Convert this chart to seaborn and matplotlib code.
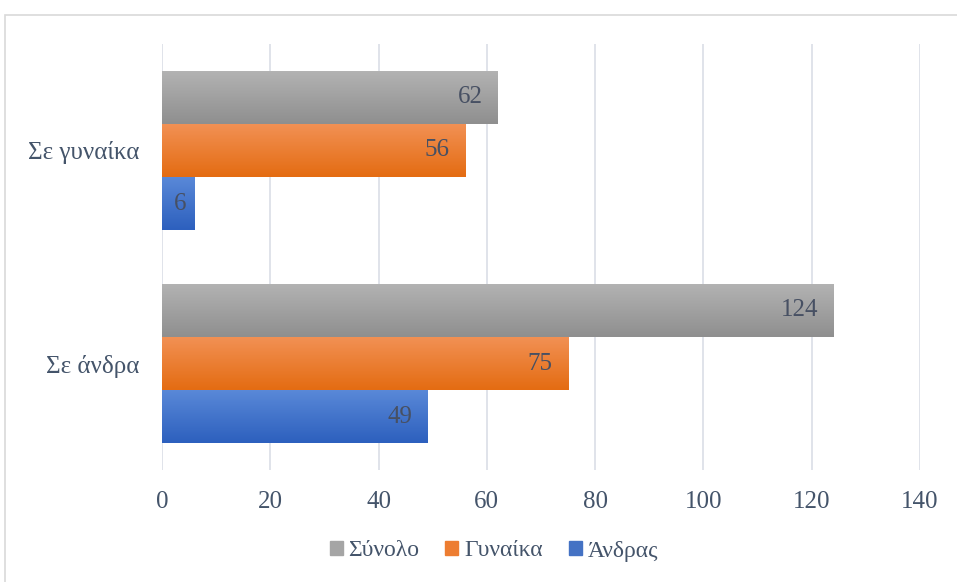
import numpy as np
import pandas as pd
import matplotlib
matplotlib.use("Agg")
import matplotlib.pyplot as plt
import seaborn as sns
from matplotlib.colors import LinearSegmentedColormap
from matplotlib.patches import Rectangle

categories = ["Σε γυναίκα", "Σε άνδρα"]
series = ["Σύνολο", "Γυναίκα", "Άνδρας"]
total = [62, 124]
women = [56, 75]
men = [6, 49]
xticks = [0, 20, 40, 60, 80, 100, 120, 140]

colors = {"Σύνολο": "#a5a5a5", "Γυναίκα": "#ed7d31", "Άνδρας": "#4472c4"}
grads = {
    "Σύνολο": ("#b3b3b3", "#8f8f8f"),
    "Γυναίκα": ("#f29155", "#e46c12"),
    "Άνδρας": ("#5a89d8", "#2d60be"),
}

df = pd.DataFrame({
    "cat": categories * 3,
    "series": [s for s in series for _ in categories],
    "value": total + women + men,
})

sns.set_theme(style="white")
plt.rcParams["font.family"] = ["Liberation Serif", "DejaVu Serif"]
txt = "#44546a"
fs = 18

fig = plt.figure(figsize=(9.57, 5.82), dpi=100)
ax = fig.add_axes([162/957, 1-470/582, (920-162)/957, (470-44)/582])

sns.barplot(data=df, y="cat", x="value", hue="series", order=categories,
            hue_order=series, palette=colors, orient="h", width=0.75,
            ax=ax, legend=True, saturation=1, linewidth=0)

ax.set_xlim(0, 140)
ax.set_xticks(xticks)
ax.grid(axis="x", color="#dde1e8", linewidth=1.3)
ax.grid(axis="y", visible=False)
ax.set_axisbelow(True)
for s in ax.spines.values():
    s.set_visible(False)
ax.tick_params(axis="x", length=0, pad=15, labelsize=fs, labelcolor=txt)
ax.tick_params(axis="y", length=0, pad=16, labelsize=fs, labelcolor=txt)
ax.set_xlabel("")
ax.set_ylabel("")

# gradient fills and labels
for cont, s in zip(ax.containers, series):
    cmap = LinearSegmentedColormap.from_list(s, [grads[s][0], grads[s][1]])
    for bar in cont:
        x0, y0 = bar.get_x(), bar.get_y()
        w, h = bar.get_width(), bar.get_height()
        grad = np.linspace(0, 1, 64).reshape(-1, 1)
        im = ax.imshow(grad, cmap=cmap, aspect="auto",
                       extent=(x0, x0 + w, y0 + h, y0), origin="upper", zorder=bar.get_zorder())
        im.set_clip_path(bar)
        ax.annotate(f"{int(round(w))}", xy=(x0 + w, y0 + h / 2), xytext=(-11 if w > 10 else -6, 0),
                    textcoords="offset points", ha="right", va="center",
                    fontsize=fs, color="#475063", zorder=5)
ax.set_ylim(1.5, -0.5)
ax.set_xlim(0, 140)

leg = ax.get_legend()
handles = [Rectangle((0, 0), 1, 1, color=colors[s]) for s in series]
leg.remove()
fig.legend(handles, series, loc="center", bbox_to_anchor=(494/957, 1-551/582), ncol=3,
           frameon=False, fontsize=17, handlelength=0.55, handleheight=0.55,
           handletextpad=0.25, columnspacing=1.1, labelcolor=txt)

fig.patches.append(Rectangle((5/957, -0.05), 1.2, 1-15/582+0.05, transform=fig.transFigure,
                             fill=False, edgecolor="#d9d9d9", linewidth=1.2))

fig.savefig("out.png", dpi=100)
